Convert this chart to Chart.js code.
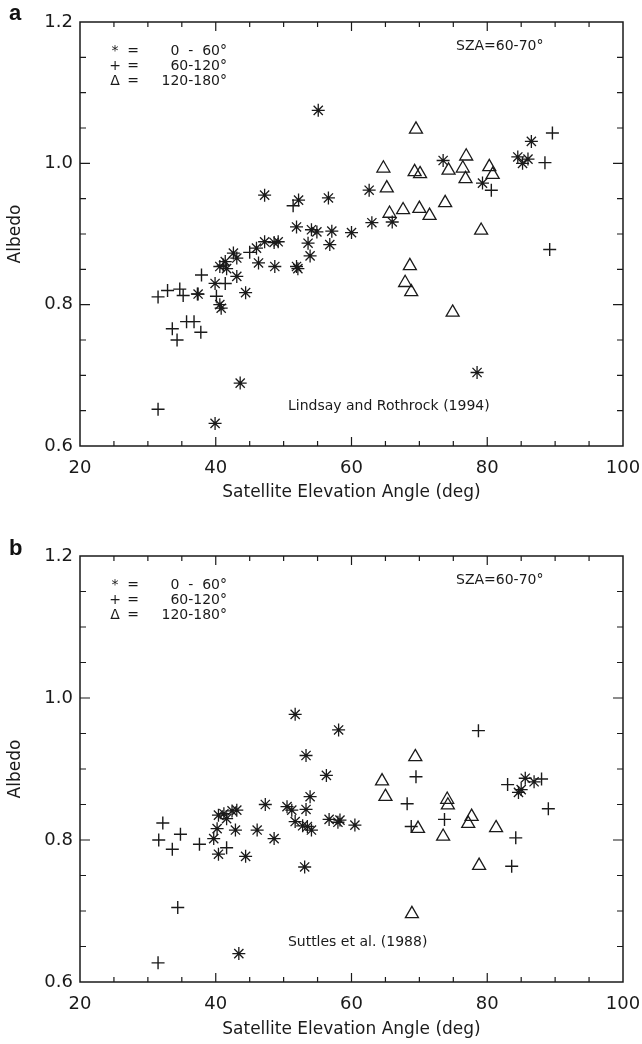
<!DOCTYPE html>
<html>
<head>
<meta charset="utf-8">
<script src="https://cdn.jsdelivr.net/npm/chart.js@4.4.1/dist/chart.umd.min.js"></script>
<style>
  body { margin: 0; background: #fff; width: 642px; height: 1044px; position: relative; overflow: hidden; }
  .panel { position: absolute; left: 0; width: 642px; }
  .tag { position: absolute; left: 9px; font: bold 22px "Liberation Sans", Arial, sans-serif; color: #111; }
</style>
</head>
<body>
<div class="panel" style="top:0;height:520px"><canvas id="chartA" width="642" height="520"></canvas></div>
<div class="panel" style="top:522px;height:522px"><canvas id="chartB" width="642" height="522"></canvas></div>
<div class="tag" style="top:0px">a</div>
<div class="tag" style="top:535px">b</div>
<script>
// axis ticks (labelled)
const xTickValues = [20, 40, 60, 80, 100]
const yTickValues = [0.6, 0.8, 1.0, 1.2]

// (a) Lindsay and Rothrock (1994)
const aStarX = [47.2, 52.2, 56.6, 55.1, 51.9, 54.1, 54.9, 57.1, 60.0, 53.6, 56.8, 53.9, 51.9, 52.1, 48.7, 46.3, 49.2, 48.6, 47.2, 46.0, 42.6, 43.1, 41.4, 40.6, 41.6, 43.1, 39.9, 44.4, 40.6, 40.8, 37.4, 43.6, 39.9, 78.5, 62.6, 66.0, 63.0, 73.5, 79.3, 86.5, 84.5, 86.0, 85.2]
const aStarY = [0.955, 0.948, 0.951, 1.075, 0.910, 0.906, 0.903, 0.904, 0.902, 0.887, 0.885, 0.869, 0.854, 0.851, 0.854, 0.859, 0.889, 0.888, 0.889, 0.880, 0.873, 0.866, 0.861, 0.854, 0.851, 0.840, 0.830, 0.817, 0.800, 0.795, 0.815, 0.689, 0.632, 0.704, 0.962, 0.917, 0.916, 1.004, 0.972, 1.031, 1.009, 1.006, 1.000]
const aPlusX = [51.4, 37.9, 41.4, 40.1, 45.0, 41.1, 31.5, 32.9, 34.7, 35.2, 37.3, 33.6, 34.3, 35.7, 36.8, 37.8, 31.5, 89.6, 88.5, 80.6, 89.2]
const aPlusY = [0.940, 0.842, 0.830, 0.812, 0.874, 0.856, 0.811, 0.820, 0.822, 0.813, 0.815, 0.766, 0.750, 0.776, 0.776, 0.761, 0.652, 1.043, 1.001, 0.962, 0.878]
const aTriX = [69.5, 76.9, 64.7, 69.3, 70.1, 74.3, 76.4, 80.3, 80.8, 76.8, 65.2, 73.8, 65.6, 67.6, 70.0, 71.5, 79.1, 68.6, 67.9, 68.8, 74.9]
const aTriY = [1.048, 1.010, 0.993, 0.988, 0.985, 0.990, 0.993, 0.995, 0.984, 0.978, 0.965, 0.944, 0.929, 0.934, 0.936, 0.926, 0.905, 0.855, 0.831, 0.818, 0.789]

// (b) Suttles et al. (1988)
const bStarX = [58.1, 51.7, 53.3, 56.3, 53.9, 47.3, 50.5, 51.2, 53.3, 51.7, 52.8, 53.5, 54.1, 56.7, 58.3, 58.0, 60.5, 53.1, 44.4, 48.6, 46.1, 42.9, 40.4, 39.7, 40.2, 40.4, 41.2, 41.6, 42.4, 43.1, 85.6, 86.9, 84.6, 85.0, 43.4]
const bStarY = [0.955, 0.977, 0.919, 0.891, 0.861, 0.850, 0.847, 0.842, 0.843, 0.826, 0.820, 0.819, 0.814, 0.829, 0.828, 0.825, 0.821, 0.762, 0.777, 0.802, 0.814, 0.814, 0.780, 0.802, 0.816, 0.835, 0.837, 0.830, 0.841, 0.842, 0.887, 0.882, 0.867, 0.871, 0.640]
const bPlusX = [78.7, 69.5, 68.2, 68.8, 73.7, 84.2, 83.6, 89.0, 83.0, 88.0, 32.2, 31.6, 33.6, 34.8, 37.6, 41.6, 34.4, 31.5]
const bPlusY = [0.954, 0.889, 0.851, 0.819, 0.829, 0.803, 0.763, 0.844, 0.878, 0.886, 0.824, 0.800, 0.787, 0.808, 0.794, 0.789, 0.705, 0.627]
const bTriX = [69.4, 64.5, 65.0, 69.8, 74.1, 74.2, 77.7, 77.2, 81.3, 73.5, 78.8, 68.9]
const bTriY = [0.917, 0.883, 0.861, 0.816, 0.857, 0.849, 0.833, 0.823, 0.817, 0.805, 0.764, 0.696]

const legendRows = [['*', '0  -  60°'], ['+', '60-120°'], ['Δ', '120-180°']]

const toPoints = (xs, ys) => xs.map((x, i) => ({ x, y: ys[i] }))

const ink = '#1a1a1a'

// frame with inward ticks on all sides, plus the in-plot notes
const frameTicks = {
  id: 'frameTicks',
  afterDatasetsDraw(chart, args, opts) {
    const { ctx, chartArea: { left, right, top, bottom }, scales: { x, y } } = chart
    ctx.save()
    ctx.strokeStyle = ink
    ctx.lineWidth = 1.5
    ctx.strokeRect(left, top, right - left, bottom - top)
    ctx.lineWidth = 1.2
    ctx.beginPath()
    for (let v = 25; v < 100; v += 5) {
      const px = x.getPixelForValue(v)
      const len = v % 20 === 0 ? 9 : 5
      ctx.moveTo(px, bottom); ctx.lineTo(px, bottom - len)
      ctx.moveTo(px, top); ctx.lineTo(px, top + len)
    }
    for (let k = 13; k < 24; k++) {
      const v = k * 0.05
      const py = y.getPixelForValue(v)
      const len = k % 4 === 0 ? 10 : 6
      ctx.moveTo(left, py); ctx.lineTo(left + len, py)
      ctx.moveTo(right, py); ctx.lineTo(right - len, py)
    }
    ctx.stroke()

    ctx.fillStyle = ink
    ctx.font = '14px "DejaVu Sans", sans-serif'
    ctx.textBaseline = 'middle'
    legendRows.forEach(([sym, range], i) => {
      const py = top + 29 + i * 15
      ctx.textAlign = 'center'
      ctx.fillText(sym, left + 35, py)
      ctx.fillText('=', left + 53, py)
      ctx.textAlign = 'right'
      ctx.fillText(range, left + 147, py)
    })
    ctx.textAlign = 'left'
    ctx.fillText('SZA=60-70°', left + 376, top + 24)
    ctx.font = '14px "DejaVu Sans", sans-serif'
    ctx.textAlign = 'center'
    ctx.fillText(opts.note, x.getPixelForValue(opts.noteX), y.getPixelForValue(0.656))
    ctx.restore()
  }
}

const makeChart = (id, sets, note, noteX, padTop, xHeight, titlePad) => new Chart(document.getElementById(id), {
  type: 'scatter',
  data: {
    datasets: [
      { label: '0-60', data: toPoints(sets[0], sets[1]), pointStyle: 'star', radius: 6.5, borderWidth: 1.3, borderColor: ink, backgroundColor: ink },
      { label: '60-120', data: toPoints(sets[2], sets[3]), pointStyle: 'cross', radius: 6.5, borderWidth: 1.4, borderColor: ink, backgroundColor: ink },
      { label: '120-180', data: toPoints(sets[4], sets[5]), pointStyle: 'triangle', radius: 7.5, borderWidth: 1.3, borderColor: ink, backgroundColor: 'rgba(0,0,0,0)' }
    ]
  },
  options: {
    responsive: false,
    animation: false,
    layout: { padding: { top: padTop, right: 19, left: 0, bottom: 0 } },
    plugins: {
      legend: { display: false },
      tooltip: { enabled: false },
      frameTicks: { note, noteX }
    },
    scales: {
      x: {
        type: 'linear', min: 20, max: 100,
        afterBuildTicks: (scale) => { scale.ticks = xTickValues.map(value => ({ value })) },
        afterFit: (scale) => { scale.height = xHeight; scale.paddingLeft = 0; scale.paddingRight = 0 },
        grid: { display: false, drawTicks: false },
        border: { display: false },
        ticks: { color: ink, padding: 12, maxRotation: 0, font: { family: 'DejaVu Sans', size: 18 } },
        title: { display: true, text: 'Satellite Elevation Angle (deg)', color: ink, padding: { top: 0, bottom: titlePad }, font: { family: 'DejaVu Sans', size: 17 } }
      },
      y: {
        type: 'linear', min: 0.6, max: 1.2,
        afterBuildTicks: (scale) => { scale.ticks = yTickValues.map(value => ({ value })) },
        afterFit: (scale) => { scale.width = 80; scale.paddingTop = 0; scale.paddingBottom = 0 },
        grid: { display: false, drawTicks: false },
        border: { display: false },
        ticks: { color: ink, padding: 7, font: { family: 'DejaVu Sans', size: 18 }, callback: (v) => v.toFixed(1) },
        title: { display: true, text: 'Albedo', color: ink, padding: { top: 5, bottom: 0 }, font: { family: 'DejaVu Sans', size: 17 } }
      }
    }
  },
  plugins: [frameTicks]
})

makeChart('chartA', [aStarX, aStarY, aPlusX, aPlusY, aTriX, aTriY], 'Lindsay and Rothrock (1994)', 65.5, 22, 74, 17)
makeChart('chartB', [bStarX, bStarY, bPlusX, bPlusY, bTriX, bTriY], 'Suttles et al. (1988)', 60.9, 34, 62, 4)
</script>
</body>
</html>
